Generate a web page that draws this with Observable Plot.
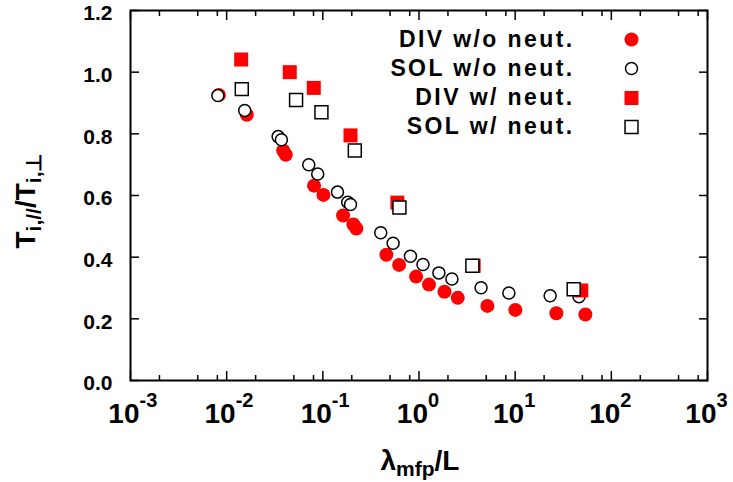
<!DOCTYPE html>
<html><head><meta charset="utf-8">
<script src="https://cdn.jsdelivr.net/npm/d3@7"></script>
<script src="https://cdn.jsdelivr.net/npm/@observablehq/plot@0.6"></script>
<style>
body{margin:0;background:#fff}
svg{font-family:"Liberation Sans",Arial,sans-serif}
</style>
</head><body><div id="chart"></div>
<script>
// DIV w/o neut. (red filled circles)
const divWoLambda = [0.0083,0.0162,0.0387,0.0412,0.081,0.1014,0.1625,0.208,0.223,0.458,0.621,0.933,1.27,1.84,2.53,5.14,10.05,26.8,53.7];
const divWoRatio  = [0.926,0.862,0.746,0.732,0.632,0.602,0.535,0.506,0.493,0.408,0.375,0.337,0.311,0.288,0.268,0.242,0.229,0.218,0.214];
// SOL w/o neut. (open circles)
const solWoLambda = [0.0081,0.0154,0.0343,0.0371,0.0714,0.0885,0.142,0.1815,0.194,0.40,0.538,0.815,1.10,1.61,2.20,4.42,8.6,23.1,46.1];
const solWoRatio  = [0.924,0.876,0.791,0.781,0.700,0.670,0.611,0.578,0.571,0.479,0.445,0.403,0.376,0.349,0.329,0.301,0.284,0.275,0.272];
// DIV w/ neut. (red filled squares)
const divWLambda = [0.01416,0.0453,0.0805,0.194,0.596,3.7,48.7];
const divWRatio  = [1.041,1.000,0.949,0.795,0.577,0.372,0.292];
// SOL w/ neut. (open squares)
const solWLambda = [0.01436,0.0527,0.0967,0.215,0.626,3.59,40.6];
const solWRatio  = [0.945,0.910,0.870,0.746,0.561,0.372,0.296];

const legendLabels = ["DIV w/o neut.","SOL w/o neut.","DIV w/ neut.","SOL w/ neut."];
const xMajor = [1e-3,1e-2,1e-1,1e0,1e1,1e2,1e3];
const xExponents = ["-3","-2","-1","0","1","2","3"];
const xMinorMultipliers = [2,5,8];
const yTicks = [0,0.2,0.4,0.6,0.8,1.0,1.2];

const xMinor = xMajor.slice(0,-1).flatMap(d => xMinorMultipliers.map(m => d*m));
const zip = (xs, ys) => xs.map((x,i) => ({x, y: ys[i]}));
const divWo = zip(divWoLambda, divWoRatio);
const solWo = zip(solWoLambda, solWoRatio);
const divW = zip(divWLambda, divWRatio);
const solW = zip(solWLambda, solWRatio);
const xLab = xMajor.map((d,i) => ({x: d, e: xExponents[i]}));

const styles = [
  {symbol:"circle", r:7, fill:"#ff0000", stroke:"none", strokeWidth:0},
  {symbol:"circle", r:6, fill:"white", stroke:"black", strokeWidth:1.5},
  {symbol:"square", r:7.9, fill:"#ff0000", stroke:"none", strokeWidth:0},
  {symbol:"square", r:7.3, fill:"white", stroke:"black", strokeWidth:1.5}
];
const series = [divWo, solWo, divW, solW];
const legendY = [29, 58, 87.5, 116.5];

const chart = Plot.plot({
  width: 733, height: 482,
  marginLeft: 130, marginRight: 26, marginTop: 10, marginBottom: 102,
  x: {type: "log", domain: [1e-3, 1e3]},
  y: {domain: [0, 1.2]},
  marks: [
    ...series.map((data, i) => Plot.dot(data, {x: "x", y: "y", ...styles[i]})),
    Plot.axisX(xMajor, {anchor: "bottom", tickSize: -9, tickFormat: () => "", label: null, strokeWidth: 1.5}),
    Plot.axisX(xMajor, {anchor: "top", tickSize: -9, tickFormat: () => "", label: null, strokeWidth: 1.5}),
    Plot.axisX(xMinor, {anchor: "bottom", tickSize: -5, tickFormat: () => "", label: null, strokeWidth: 1.5}),
    Plot.axisX(xMinor, {anchor: "top", tickSize: -5, tickFormat: () => "", label: null, strokeWidth: 1.5}),
    Plot.axisY(yTicks, {anchor: "left", tickSize: -9, tickFormat: () => "", label: null, strokeWidth: 1.5}),
    Plot.axisY(yTicks, {anchor: "left", tickSize: 0, tickPadding: 18, tickFormat: d3.format(".1f"), label: null, fontSize: 21, fontWeight: "bold", fill: "black", dy: 3}),
    Plot.axisY(yTicks, {anchor: "right", tickSize: -9, tickFormat: () => "", label: null, strokeWidth: 1.5}),
    Plot.text(xLab, {x: "x", frameAnchor: "bottom", text: () => "10", textAnchor: "end", dx: 9, dy: 42, lineAnchor: "bottom", fontSize: 28, fontWeight: "bold", fill: "black"}),
    Plot.text(xLab, {x: "x", frameAnchor: "bottom", text: "e", textAnchor: "start", dx: 9, dy: 26, lineAnchor: "bottom", fontSize: 20, fontWeight: "bold", fill: "black"}),
    ...legendLabels.map((lab, i) => Plot.text([lab], {frameAnchor: "top-right", text: d => d, textAnchor: "end", dx: -133, dy: legendY[i], lineAnchor: "middle", fontSize: 23, fontWeight: "bold", fill: "black"})),
    ...legendLabels.map((lab, i) => Plot.dot([lab], {frameAnchor: "top-right", dx: -76, dy: legendY[i], ...styles[i]})),
    Plot.frame({stroke: "black", strokeWidth: 2})
  ]
});

const svg = d3.select(chart);
svg.selectAll("text").filter(function() { return legendLabels.includes(this.textContent); })
  .style("letter-spacing", "2.4px");
// y-axis label
const yl = svg.append("text")
  .attr("transform", "translate(35,201) rotate(-90)")
  .attr("text-anchor", "middle")
  .attr("font-size", 28).attr("font-weight", "bold").attr("fill", "black");
yl.append("tspan").text("T");
yl.append("tspan").attr("dy", 6).attr("font-size", 21).text("i,//");
yl.append("tspan").attr("dy", -6).text("/T");
yl.append("tspan").attr("dy", 6).attr("font-size", 21).text("i,\u22A5");
// x-axis label
const xl = svg.append("text")
  .attr("x", 420).attr("y", 470)
  .attr("text-anchor", "middle")
  .attr("font-size", 28).attr("font-weight", "bold").attr("fill", "black");
xl.append("tspan").text("\u03BB");
xl.append("tspan").attr("dy", 6).attr("font-size", 21).text("mfp");
xl.append("tspan").attr("dy", -6).text("/L");

document.getElementById("chart").appendChild(chart);
</script>
</body></html>
